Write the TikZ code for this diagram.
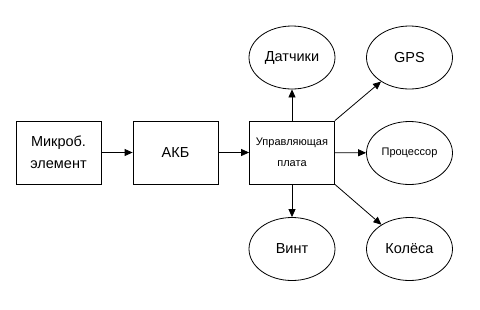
\documentclass[tikz,border=0pt]{standalone}
\usepackage{fontspec}
\setmainfont{Liberation Sans}
\usetikzlibrary{arrows.meta,shapes.geometric}
\begin{document}
\begin{tikzpicture}[x=1pt,y=-1pt,line width=0.8pt,
  box/.style={draw,minimum width=85pt,minimum height=63pt,align=center,
    font=\fontsize{14.5}{22}\selectfont},
  oval/.style={draw,ellipse,minimum width=86pt,minimum height=63pt,inner sep=0pt,
    font=\fontsize{14.5}{18}\selectfont},
  arr/.style={-{Triangle[length=8pt,width=7pt]}}]
  \useasboundingbox (0,0) rectangle (480,309);

  % chain of blocks
  \node[box] (mikro) at (58.5,152.5) {Микроб.\\элемент};
  \node[box] (akb) at (175.5,152.5) {АКБ};
  \node[box,font=\fontsize{11}{21}\selectfont] (plata) at (292,152.5) {Управляющая\\плата};

  % consumers
  \node[oval] (datch) at (292,57.5) {Датчики};
  \node[oval] (gps) at (409.5,57.5) {GPS};
  \node[oval,font=\fontsize{11}{14}\selectfont] (proc) at (409.5,153) {Процессор};
  \node[oval] (vint) at (292,249) {Винт};
  \node[oval] (koles) at (409.5,249) {Колёса};

  \draw[arr] (mikro) -- (akb);
  \draw[arr] (akb) -- (plata);
  \draw[arr] (plata) -- (datch);
  \draw[arr] (plata.north east) -- (gps);
  \draw[arr] (plata) -- (proc);
  \draw[arr] (plata) -- (vint);
  \draw[arr] (plata.south east) -- (koles);
\end{tikzpicture}
\end{document}
